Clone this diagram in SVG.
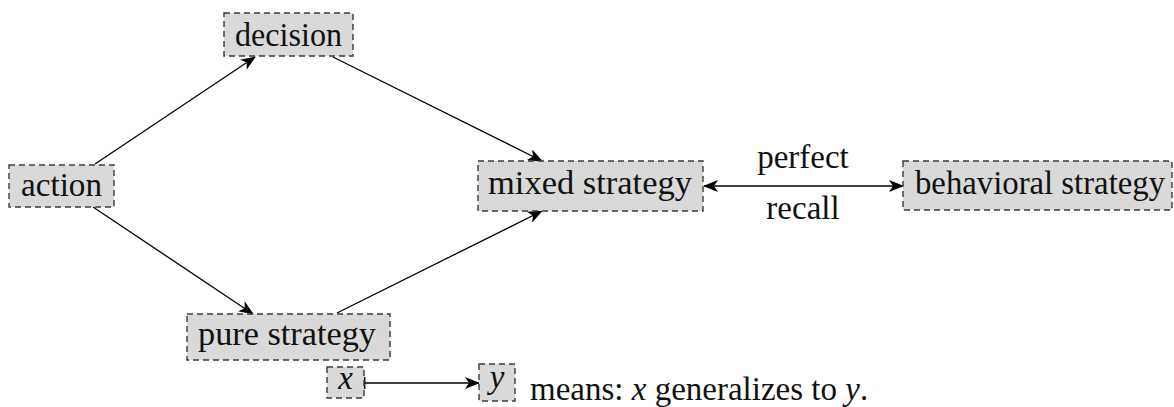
<svg xmlns="http://www.w3.org/2000/svg" width="1174" height="407" viewBox="0 0 1174 407">
<style>
.box{fill:#d9d9d9;stroke:#3a3a3a;stroke-width:1.4;stroke-dasharray:6 4}
.t{font-family:'Liberation Serif','DejaVu Serif','Noto Serif','Times New Roman',Times,'Nimbus Roman','FreeSerif',serif;font-size:33px;fill:#111}
.m{font-style:italic}
.e{stroke:#000;stroke-width:1.3;fill:none}
</style>
<defs>
<marker id="ah" viewBox="0 0 15 12" refX="14" refY="6" markerWidth="15" markerHeight="12" markerUnits="userSpaceOnUse" orient="auto-start-reverse">
<path d="M0,0 L15,6 L0,12 L4,6 Z" fill="#000"/>
</marker>
<marker id="bar" viewBox="0 0 2 12" refX="1" refY="6" markerWidth="2" markerHeight="12" markerUnits="userSpaceOnUse" orient="auto">
<rect x="0" y="0" width="1.4" height="12" fill="#000"/>
</marker>
</defs>
<g id="connectors">
<line class="e" x1="95" y1="164" x2="255" y2="57" marker-end="url(#ah)"/>
<line class="e" x1="333" y1="57" x2="542" y2="161" marker-end="url(#ah)"/>
<line class="e" x1="93" y1="207" x2="253" y2="314" marker-end="url(#ah)"/>
<line class="e" x1="337" y1="313" x2="542" y2="211" marker-end="url(#ah)"/>
<line class="e" x1="704" y1="186" x2="903" y2="186" marker-start="url(#ah)" marker-end="url(#ah)"/>
<text class="t" x="803" y="168" text-anchor="middle">perfect</text>
<text class="t" x="803" y="219" text-anchor="middle">recall</text>
<line class="e" x1="365" y1="383" x2="479" y2="383" marker-start="url(#bar)" marker-end="url(#ah)"/>
</g>
<g id="decision">
<rect class="box" x="224" y="13" width="129" height="43"/>
<text class="t" x="235" y="46" textLength="107" lengthAdjust="spacingAndGlyphs">decision</text>
</g>
<g id="action">
<rect class="box" x="9" y="165" width="105" height="42"/>
<text class="t" x="21" y="196" textLength="81" lengthAdjust="spacingAndGlyphs">action</text>
</g>
<g id="mixed">
<rect class="box" x="478" y="161" width="225" height="50"/>
<text class="t" x="488" y="194" textLength="204" lengthAdjust="spacingAndGlyphs">mixed strategy</text>
</g>
<g id="behavioral">
<rect class="box" x="903" y="161" width="269" height="49"/>
<text class="t" x="915" y="194" textLength="250" lengthAdjust="spacingAndGlyphs">behavioral strategy</text>
</g>
<g id="pure">
<rect class="box" x="187" y="314" width="203" height="46"/>
<text class="t" x="198" y="345" textLength="178" lengthAdjust="spacingAndGlyphs">pure strategy</text>
</g>
<g id="legend-x">
<rect class="box" x="327" y="367" width="37" height="31"/>
<text class="t m" x="345.5" y="389" text-anchor="middle">x</text>
</g>
<g id="legend-y">
<rect class="box" x="479" y="364" width="36" height="37"/>
<text class="t m" x="497" y="388" text-anchor="middle">y</text>
</g>
<g id="legend-text">
<text class="t" x="530" y="400" font-size="32">means: <tspan class="m">x</tspan> generalizes to <tspan class="m">y</tspan>.</text>
</g>
</svg>
